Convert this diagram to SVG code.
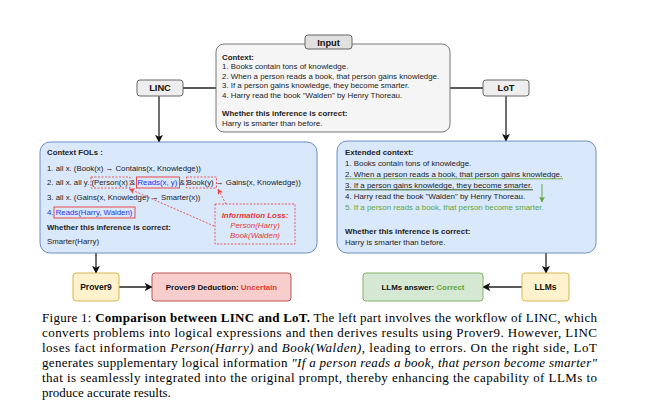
<svg xmlns="http://www.w3.org/2000/svg" width="650" height="400" viewBox="0 0 650 400">
<style>
.t{font-family:"Liberation Sans",Arial,sans-serif;fill:#222;}
.s79{font-size:7.9px;}
.s78{font-size:7.8px;}
.b{font-weight:bold;}
.lbl{font-family:"Liberation Sans",Arial,sans-serif;font-weight:bold;fill:#111;text-anchor:middle;}
.cap{font-family:"Liberation Serif","Times New Roman",serif;font-size:13px;fill:#000;}
.conn{stroke:#222;stroke-width:1.3;fill:none;}
.red{fill:#e53935;}
.blue{fill:#2336f0;}
.green{fill:#5aa63e;}
.dash{fill:none;stroke:#e8484a;stroke-width:0.9;stroke-dasharray:2 1.5;}
</style>
<defs>
<marker id="ah" viewBox="0 0 10 10" refX="9" refY="5" markerWidth="8" markerHeight="8" markerUnits="userSpaceOnUse" orient="auto"><path d="M0,0 L10,5 L0,10 L2.5,5 Z" fill="#111"/></marker>
<marker id="ahr" viewBox="0 0 10 10" refX="9" refY="5" markerWidth="6" markerHeight="6" markerUnits="userSpaceOnUse" orient="auto"><path d="M0,0 L10,5 L0,10 L2.5,5 Z" fill="#e8484a"/></marker>
<marker id="ahg" viewBox="0 0 10 10" refX="9" refY="5" markerWidth="6" markerHeight="6" markerUnits="userSpaceOnUse" orient="auto"><path d="M0,0 L10,5 L0,10 L2.5,5 Z" fill="#5aa63e"/></marker>
</defs>
<rect width="650" height="400" fill="#fff"/>

<g id="connectors">
<line class="conn" x1="183" y1="88" x2="216" y2="88"/>
<line class="conn" x1="450" y1="88" x2="483" y2="88"/>
<line class="conn" x1="159" y1="96" x2="159" y2="142" marker-end="url(#ah)"/>
<line class="conn" x1="506" y1="96" x2="506" y2="141" marker-end="url(#ah)"/>
<line class="conn" x1="96" y1="253" x2="96" y2="273" marker-end="url(#ah)"/>
<line class="conn" x1="119" y1="287" x2="152" y2="287" marker-end="url(#ah)"/>
<line class="conn" x1="546" y1="253" x2="546" y2="273" marker-end="url(#ah)"/>
<line class="conn" x1="522" y1="287" x2="483" y2="287" marker-end="url(#ah)"/>
</g>

<g id="input">
<rect x="216" y="44" width="234" height="88" rx="8" fill="#f5f5f5" stroke="#777" stroke-width="1"/>
<rect x="305" y="35" width="47" height="14" rx="3" fill="#e0e0e0" stroke="#666" stroke-width="1"/>
<text class="lbl" x="328.5" y="45.5" font-size="9.3">Input</text>
<text class="t s79 b" x="222" y="59.8">Context:</text>
<text class="t s79" x="222" y="69.3">1. Books contain tons of knowledge.</text>
<text class="t s79" x="222" y="78.8">2. When a person reads a book, that person gains knowledge.</text>
<text class="t s79" x="222" y="88.3">3. If a person gains knowledge, they become smarter.</text>
<text class="t s79" x="222" y="97.8">4. Harry read the book "Walden" by Henry Thoreau.</text>
<text class="t s79 b" x="222" y="116.3">Whether this inference is correct:</text>
<text class="t s79" x="222" y="125.8">Harry is smarter than before.</text>
</g>

<g id="linc">
<rect x="137" y="80" width="46" height="16" rx="3" fill="#eeeeee" stroke="#666" stroke-width="1"/>
<text class="lbl" x="160" y="91.3" font-size="9.3">LINC</text>
</g>

<g id="lot">
<rect x="483" y="80" width="46" height="16" rx="3" fill="#eeeeee" stroke="#666" stroke-width="1"/>
<text class="lbl" x="506" y="91.3" font-size="9.3">LoT</text>
</g>

<g id="context-fols">
<rect x="40" y="142" width="277" height="111" rx="10" fill="#dae8fc" stroke="#6c8ebf" stroke-width="1"/>
<text class="t s78 b" x="47" y="154.5">Context FOLs :</text>
<text class="t s78" x="47" y="170.5">1. all x. (Book(x) → Contains(x, Knowledge))</text>
<text class="t s78" x="47" y="185.3">2. all x. all y. (Person(x) &amp; <tspan class="blue">Reads(x, y)</tspan> &amp; Book(y) → Gains(x, Knowledge))</text>
<text class="t s78" x="47" y="200">3. all x. (Gains(x, Knowledge) → Smarter(x))</text>
<text class="t s78 blue" x="47" y="214.7">4. Reads(Harry, Walden)</text>
<text class="t s78 b" x="47" y="229.5">Whether this inference is correct:</text>
<text class="t s78" x="47" y="244.3">Smarter(Harry)</text>
<rect class="dash" x="91" y="177" width="39" height="11"/>
<rect x="136.5" y="177" width="43" height="11" fill="none" stroke="#e8484a" stroke-width="1"/>
<rect class="dash" x="186.5" y="177" width="30" height="11"/>
<rect x="54" y="207" width="81" height="11" fill="none" stroke="#e8484a" stroke-width="1"/>
<line class="dash" x1="214" y1="226" x2="129.5" y2="189" marker-end="url(#ahr)"/>
<line class="dash" x1="226" y1="204" x2="218" y2="189" marker-end="url(#ahr)"/>
</g>

<g id="info-loss">
<rect class="dash" x="215" y="204" width="80" height="40"/>
<text class="t s79 b red" x="255" y="218" text-anchor="middle" font-style="italic">Information Loss:</text>
<text class="t s79 red" x="255" y="228" text-anchor="middle" font-style="italic">Person(Harry)</text>
<text class="t s79 red" x="255" y="237.5" text-anchor="middle" font-style="italic">Book(Walden)</text>
</g>

<g id="extended-context">
<rect x="337" y="141" width="259" height="112" rx="10" fill="#dae8fc" stroke="#6c8ebf" stroke-width="1"/>
<text class="t s79 b" x="345" y="155">Extended context:</text>
<text class="t s79" x="345" y="166">1. Books contain tons of knowledge.</text>
<text class="t s79" x="345" y="177">2. When a person reads a book, that person gains knowledge.</text>
<line x1="345" y1="178.8" x2="563" y2="178.8" stroke="#6fb04f" stroke-width="1"/>
<text class="t s79" x="345" y="188">3. If a person gains knowledge, they become smarter.</text>
<line x1="345" y1="189.8" x2="533" y2="189.8" stroke="#2f5a26" stroke-width="1"/>
<text class="t s79" x="345" y="199.3">4. Harry read the book "Walden" by Henry Thoreau.</text>
<text class="t s79 green" x="345" y="210.4">5. If a person reads a book, that person become smarter.</text>
<line x1="542" y1="184" x2="542" y2="202" stroke="#5aa63e" stroke-width="1" marker-end="url(#ahg)"/>
<text class="t s79 b" x="345" y="234">Whether this inference is correct:</text>
<text class="t s79" x="345" y="244.5">Harry is smarter than before.</text>
</g>

<g id="prover9">
<rect x="73" y="273" width="46" height="28" rx="3" fill="#fff2cc" stroke="#d6b656" stroke-width="1"/>
<text class="lbl" x="96" y="290" font-size="8.5">Prover9</text>
</g>

<g id="prover9-deduction">
<rect x="152" y="273" width="139" height="28" rx="3" fill="#f8cecc" stroke="#b85450" stroke-width="1"/>
<text class="lbl" x="221.5" y="290" font-size="7.9">Prover9 Deduction: <tspan class="red">Uncertain</tspan></text>
</g>

<g id="llms">
<rect x="522" y="273" width="47" height="28" rx="3" fill="#fff2cc" stroke="#d6b656" stroke-width="1"/>
<text class="lbl" x="545.5" y="290" font-size="8.5">LLMs</text>
</g>

<g id="llms-answer">
<rect x="363" y="273" width="120" height="28" rx="3" fill="#d5e8d4" stroke="#82b366" stroke-width="1"/>
<text class="lbl" x="423" y="290" font-size="7.9">LLMs answer: <tspan class="green">Correct</tspan></text>
</g>

<g id="caption">
<text class="cap" x="42" y="322" textLength="555" lengthAdjust="spacing">Figure 1: <tspan font-weight="bold">Comparison between LINC and LoT.</tspan> The left part involves the workflow of LINC, which</text>
<text class="cap" x="42" y="337" textLength="555" lengthAdjust="spacing">converts problems into logical expressions and then derives results using Prover9. However, LINC</text>
<text class="cap" x="42" y="352" textLength="555" lengthAdjust="spacing">loses fact information <tspan font-style="italic">Person(Harry)</tspan> and <tspan font-style="italic">Book(Walden)</tspan>, leading to errors. On the right side, LoT</text>
<text class="cap" x="42" y="367" textLength="555" lengthAdjust="spacing">generates supplementary logical information <tspan font-style="italic">"If a person reads a book, that person become smarter"</tspan></text>
<text class="cap" x="42" y="382" textLength="555" lengthAdjust="spacing">that is seamlessly integrated into the original prompt, thereby enhancing the capability of LLMs to</text>
<text class="cap" x="42" y="397">produce accurate results.</text>
</g>
</svg>
